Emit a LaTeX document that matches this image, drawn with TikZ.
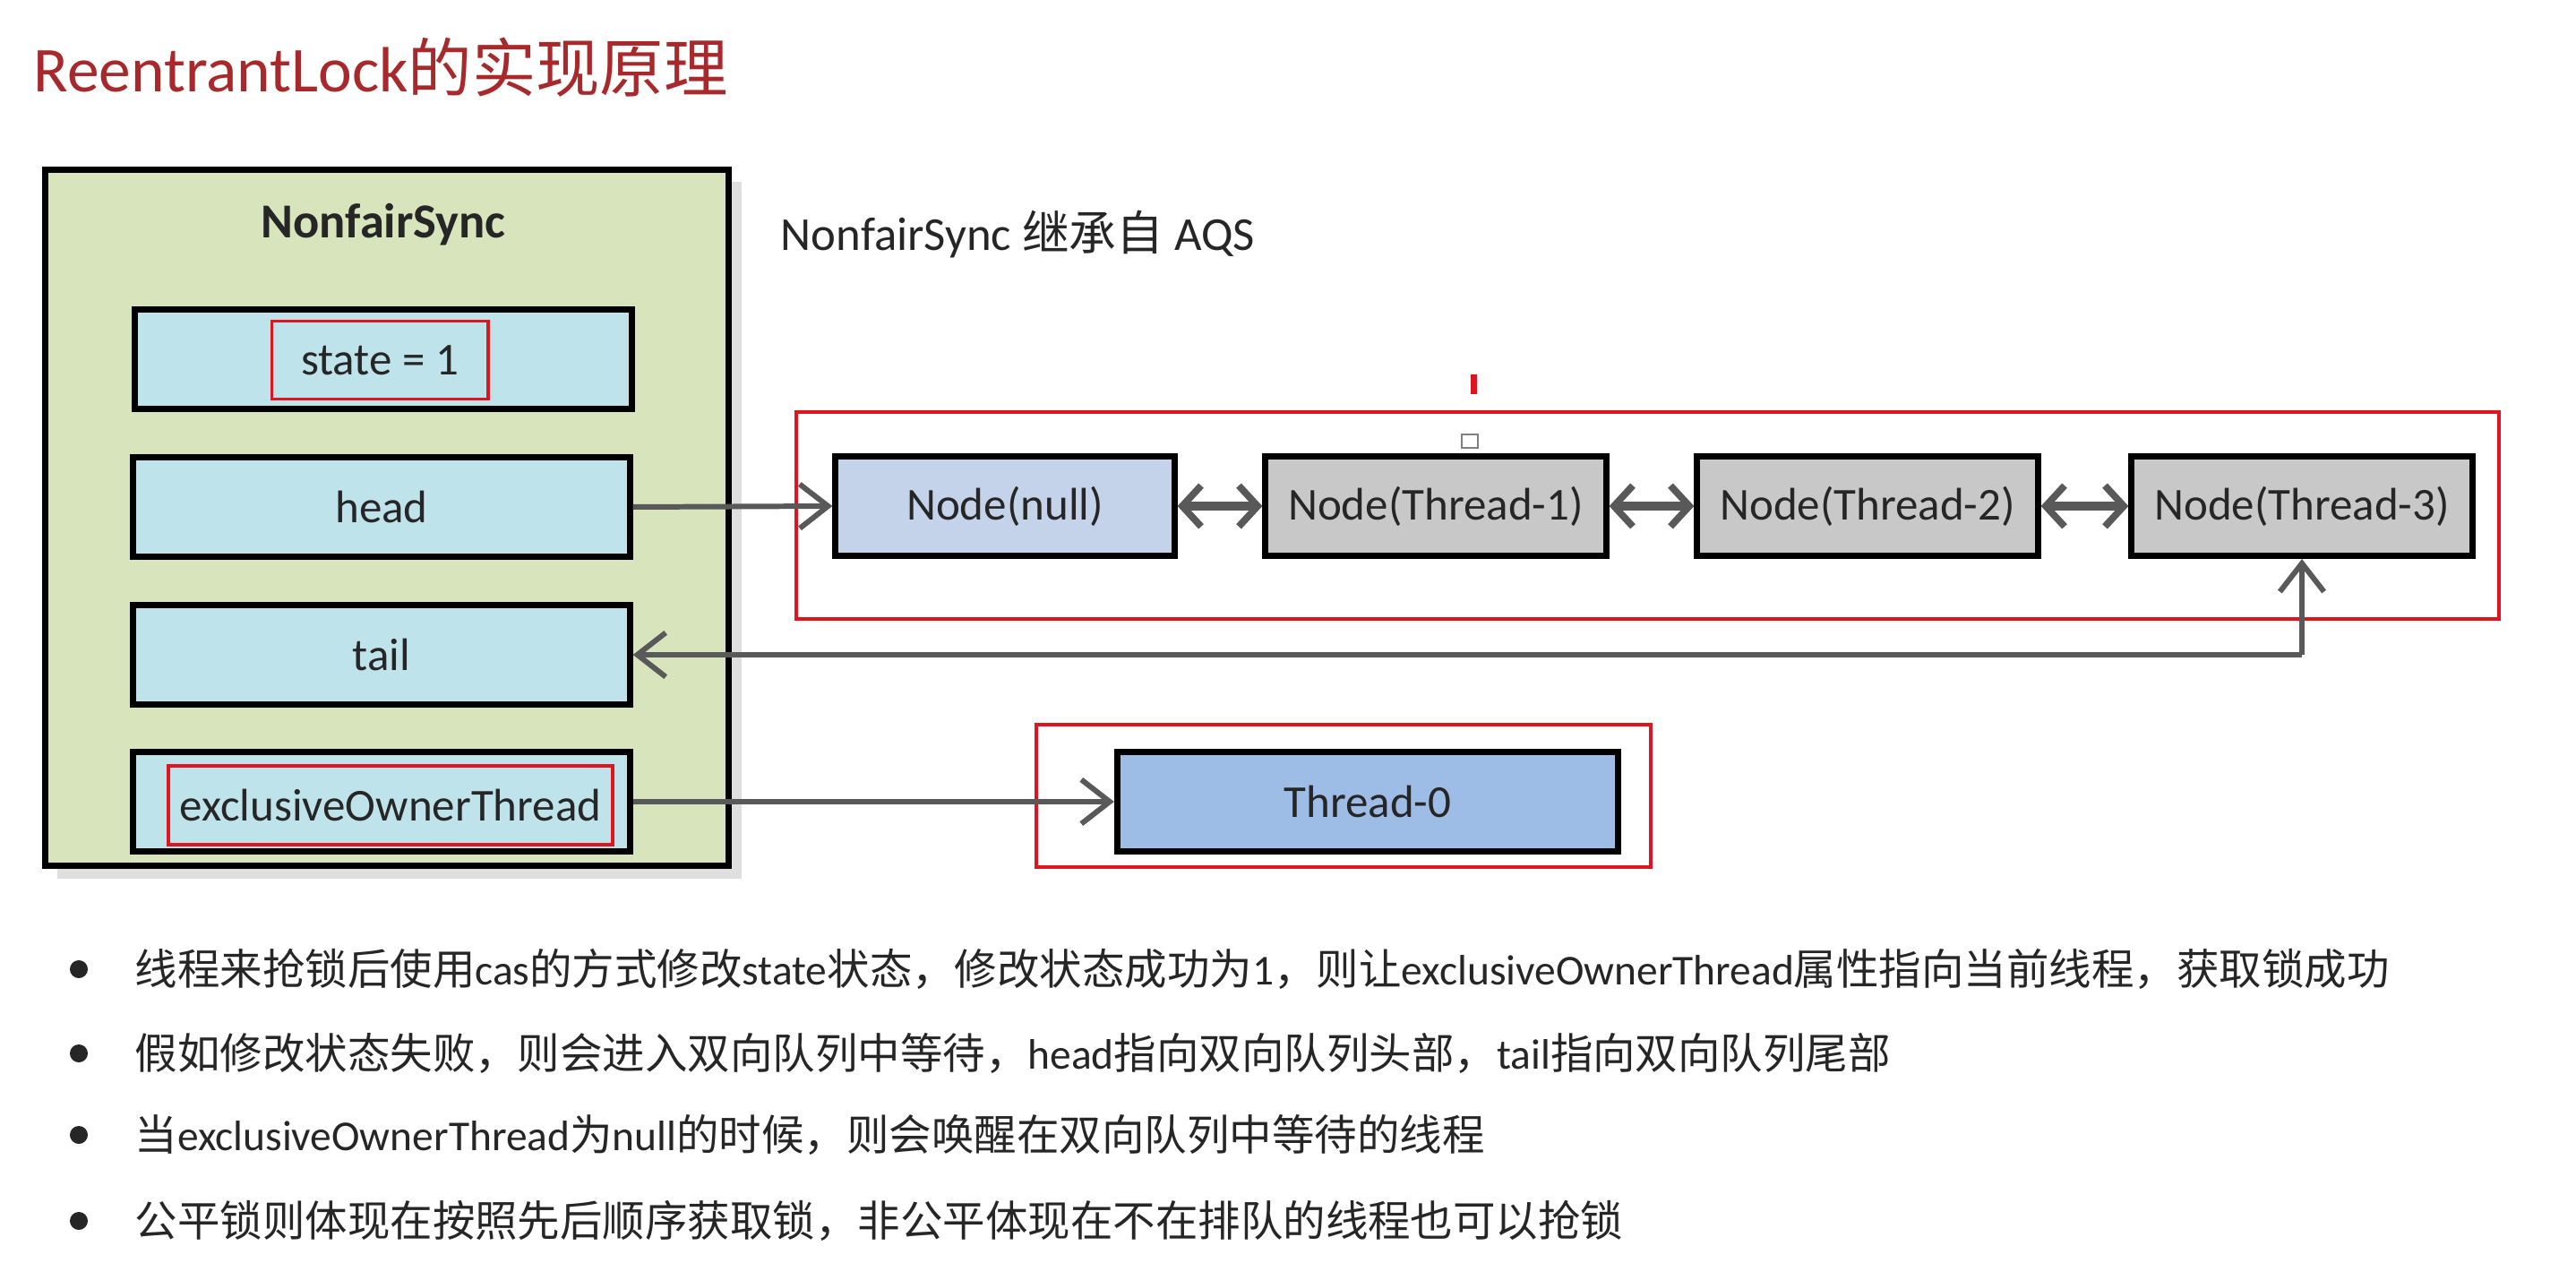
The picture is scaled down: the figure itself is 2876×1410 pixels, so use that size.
\documentclass[tikz,border=0pt]{standalone}
\usepackage{fontspec}
\setmainfont{Carlito}
\newfontfamily\cjkfont{Noto Sans CJK SC}
\newcommand\zh[1]{{\cjkfont #1}}
\usetikzlibrary{arrows.meta,shadows}
\definecolor{ttl}{HTML}{A8292B}
\definecolor{grn}{HTML}{D8E4BC}
\definecolor{lbl}{HTML}{BFE3EB}
\definecolor{nnull}{HTML}{C5D3EA}
\definecolor{ngray}{HTML}{C8C8C8}
\definecolor{tzero}{HTML}{9DBDE6}
\definecolor{arr}{HTML}{595959}
\definecolor{redb}{HTML}{E0141E}
\definecolor{txt}{HTML}{262626}
\begin{document}
\begin{tikzpicture}[x=0.01cm,y=-0.01cm,
  box/.style={draw=black,line width=2pt,minimum height=1.11cm,inner sep=0pt,font=\fontsize{14.5}{16}\selectfont,text=txt},
  field/.style={box,fill=lbl,minimum width=5.54cm},
  qn/.style={box,fill=ngray,minimum width=3.8cm},
  redbox/.style={draw=redb,line width=1.1pt},
  conn/.style={draw=arr,line width=1.7pt,-{Straight Barb[length=9pt,width=14pt,line width=1.7pt]}},
  dconn/.style={draw=arr,line width=2.6pt,{Straight Barb[length=6pt,width=13pt,line width=2.2pt]}-{Straight Barb[length=6pt,width=13pt,line width=2.2pt]}},
  bul/.style={anchor=west,font=\fontsize{13.5}{15}\selectfont,text=txt,inner sep=0pt}]
\useasboundingbox[fill=white] (0,0) rectangle (2876,1410);
\node[anchor=west,text=ttl,font=\fontsize{20.3}{24}\selectfont,inner sep=0pt] (title) at (37,75) {ReentrantLock\zh{的实现原理}};
\node[draw=black,line width=2pt,fill=grn,minimum width=7.63cm,minimum height=7.77cm,drop shadow={opacity=0.25,shadow xshift=4pt,shadow yshift=-4pt}] (sync) at (432,578) {};
\node[font=\bfseries\fontsize{15.5}{18}\selectfont,text=txt] (syncl) at (428,251) {NonfairSync};
\node[field] (state) at (428,401) {};
\node[redbox,minimum width=2.41cm,minimum height=0.87cm,font=\fontsize{14.5}{16}\selectfont,text=txt] (statel) at (424,402) {state = 1};
\node[field] (head) at (426,566) {head};
\node[field] (tail) at (426,731) {tail};
\node[field] (excl) at (426,895) {};
\node[redbox,minimum width=4.95cm,minimum height=0.88cm,font=\fontsize{14.5}{16}\selectfont,text=txt] (exclr) at (436,899) {exclusiveOwnerThread};
\node[anchor=west,inner sep=0pt,font=\fontsize{15}{18}\selectfont,text=txt] (inh) at (871,262) {NonfairSync \zh{继承自} AQS};
\draw[redbox] (889,460) rectangle (2790,691);
\node[box,fill=nnull,minimum width=3.78cm] (n0) at (1122,565) {Node(null)};
\node[qn] (n1) at (1603,565) {Node(Thread-1)};
\node[qn] (n2) at (2085,565) {Node(Thread-2)};
\node[qn] (n3) at (2570,565) {Node(Thread-3)};
\draw[redbox] (1157,809) rectangle (1843,968);
\node[box,fill=tzero,minimum width=5.59cm] (t0) at (1527,895) {Thread-0};
\draw[conn] (head.east) -- (n0.west);
\draw[dconn] (n0) -- (n1);
\draw[dconn] (n1) -- (n2);
\draw[dconn] (n2) -- (n3);
\coordinate (tc) at (2570,731);
\draw[conn] (tc) -- (tail.east);
\draw[conn] (tc) -- (n3.south);
\draw[conn] (excl.east) -- (t0.west);
\draw[redb,line width=2pt] (1645,418) -- (1645,440);
\draw[gray,line width=0.8pt] (1632,485) rectangle (1650,500);
\foreach \y/\t [count=\i] in {1082/{\zh{线程来抢锁后使用}cas\zh{的方式修改}state\zh{状态，修改状态成功为}1\zh{，则让}exclusiveOwnerThread\zh{属性指向当前线程，获取锁成功}},
 1176/{\zh{假如修改状态失败，则会进入双向队列中等待，}head\zh{指向双向队列头部，}tail\zh{指向双向队列尾部}},
 1267/{\zh{当}exclusiveOwnerThread\zh{为}null\zh{的时候，则会唤醒在双向队列中等待的线程}},
 1363/{\zh{公平锁则体现在按照先后顺序获取锁，非公平体现在不在排队的线程也可以抢锁}}}{
  \fill[txt] (88,\y) circle (0.1cm);
  \node[bul] (b\i) at (150,\y) {\t};
}
\end{tikzpicture}
\end{document}
